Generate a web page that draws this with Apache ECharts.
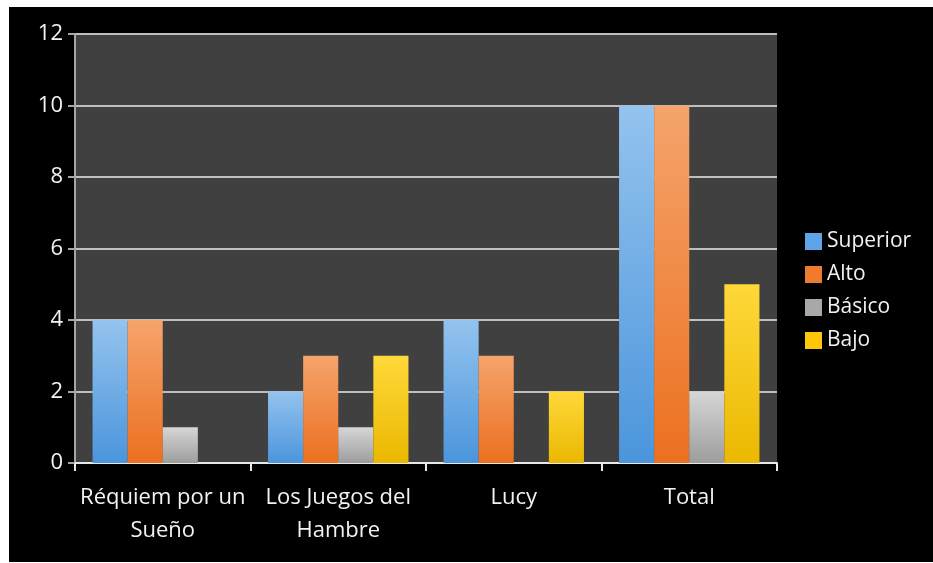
<!DOCTYPE html>
<html><head><meta charset="utf-8">
<script src="https://cdn.jsdelivr.net/npm/echarts@6/dist/echarts.min.js"></script>
<style>
html,body{margin:0;padding:0;background:#fff;}
#bg{position:absolute;left:9px;top:7px;width:924px;height:555px;background:#000;}
#c{position:absolute;left:0;top:0;width:933px;height:563px;}
</style></head>
<body><div id="bg"></div><div id="c"></div>
<script>
const categories = ['Réquiem por un\nSueño', 'Los Juegos del\nHambre', 'Lucy', 'Total'];
const superior = [4, 2, 4, 10];
const alto = [4, 3, 3, 10];
const basico = [1, 1, 0, 2];
const bajo = [0, 3, 2, 5];
const yTicks = {min: 0, max: 12, interval: 2};

function grad(a, b) {
  return new echarts.graphic.LinearGradient(0, 0, 0, 1, [{offset: 0, color: a}, {offset: 1, color: b}]);
}
const font = 'Open Sans';
const chart = echarts.init(document.getElementById('c'));
const mk = (name, data, c1, c2) => ({
  name, type: 'bar', data, barGap: '0%', barCategoryGap: '20%',
  itemStyle: {color: grad(c1, c2)}, emphasis: {disabled: true}
});
chart.setOption({
  backgroundColor: 'transparent',
  animation: false,
  color: ['#5b9bd5', '#ed7d31', '#a5a5a5', '#ffc000'],
  grid: {left: 75, right: 156, top: 34, bottom: 100, show: true, backgroundColor: '#404040', borderWidth: 0},
  legend: {
    orient: 'vertical', left: 805, top: 231, padding: 0, itemWidth: 17, itemHeight: 17, itemGap: 12,
    icon: 'rect',
    textStyle: {color: '#f2f2f2', fontSize: 21, fontFamily: font},
    data: [
      {name: 'Superior', itemStyle: {color: '#5ea4e6'}},
      {name: 'Alto', itemStyle: {color: '#ef7b2f'}},
      {name: 'Básico', itemStyle: {color: '#a8a8a8'}},
      {name: 'Bajo', itemStyle: {color: '#ffc70a'}}
    ]
  },
  xAxis: {
    type: 'category', data: categories,
    axisLine: {lineStyle: {color: '#e8e8e8', width: 2}},
    axisTick: {show: true, length: 8, lineStyle: {color: '#e8e8e8', width: 2}},
    axisLabel: {color: '#f2f2f2', fontSize: 22, fontFamily: font, margin: 18, lineHeight: 33, interval: 0}
  },
  yAxis: {
    type: 'value', min: yTicks.min, max: yTicks.max, interval: yTicks.interval,
    axisLine: {show: true, lineStyle: {color: '#a6a6a6', width: 2}},
    axisTick: {show: true, length: 7, lineStyle: {color: '#a6a6a6', width: 2}},
    splitLine: {lineStyle: {color: '#bfbfbf', width: 2}},
    axisLabel: {color: '#f2f2f2', fontSize: 22, fontFamily: font, margin: 12}
  },
  series: [
    mk('Superior', superior, '#94c3ee', '#4b95dc'),
    mk('Alto', alto, '#f5a46c', '#ec7020'),
    mk('Básico', basico, '#d6d6d6', '#9d9d9d'),
    mk('Bajo', bajo, '#ffd83a', '#eab800')
  ]
});
</script></body></html>
